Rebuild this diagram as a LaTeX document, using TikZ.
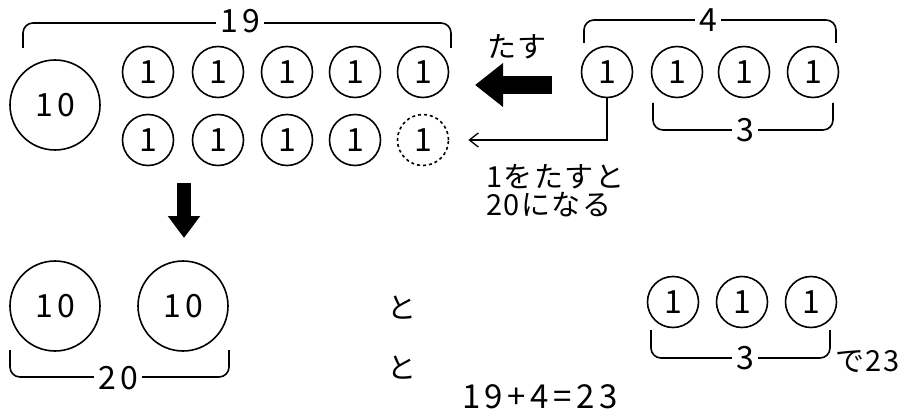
\documentclass[tikz,border=0pt]{standalone}
\usepackage{fontspec}
\setmainfont{Noto Sans CJK JP}
\newfontfamily\spaced[LetterSpace=14]{Noto Sans CJK JP}
\newfontfamily\kana[LetterSpace=5]{Noto Sans CJK JP}
\usetikzlibrary{arrows.meta}
\begin{document}
\begin{tikzpicture}[x=1pt,y=-1pt,
  coin/.style={circle,draw,line width=1.6pt,inner sep=0pt,font=\spaced\fontsize{32}{32}\selectfont},
  big/.style={coin,minimum size=90pt},
  one/.style={coin,minimum size=51pt},
  brk/.style={line width=1.6pt,rounded corners=10pt},
  lbl/.style={fill=white,inner sep=4pt,font=\spaced\fontsize{32}{32}\selectfont},
  txt/.style={inner sep=0pt,font=\kana\fontsize{29}{29}\selectfont},
  eqn/.style={inner sep=0pt,font=\spaced\fontsize{33}{33}\selectfont}]
\useasboundingbox (0,0) rectangle (904,414);
% top left group
\node[big] (t10) at (55,105) {10};
\foreach \x [count=\i] in {148,218,287,355,423} \node[one] (a\i) at (\x,72) {1};
\foreach \x [count=\i] in {148,218,287,355} \node[one] (b\i) at (\x,140) {1};
\node[one,dashed] (bd) at (423,140) {1};
\draw[brk] (23,48) -- (23,23) -- (451,23) -- (451,48);
\node[lbl] (l19) at (240,21) {19};
% right group
\foreach \x [count=\i] in {607,677,744,813} \node[one] (r\i) at (\x,72) {1};
\draw[brk] (584,43) -- (584,20) -- (836,20) -- (836,43);
\node[lbl] (l4) at (708,20) {4};
\draw[brk] (653,103) -- (653,130) -- (833,130) -- (833,103);
\node[lbl] (l3a) at (745,130) {3};
% arrows
\node[txt] (tasu) at (517,47) {たす};
\coordinate (ha) at (552,85);
\coordinate (hb) at (475,85);
\draw[line width=18pt,-{Triangle[length=28pt,width=42pt]}] (ha) -- (hb);
\draw[line width=1.3pt,-{Straight Barb[length=9pt,width=14pt]},shorten >=19pt] (r1.south) |- (bd.east);
\node[txt,anchor=west,align=left] (note) at (486,191) {1をたすと\\[-1pt]20になる};
\coordinate (va) at (184,183);
\coordinate (vb) at (184,238);
\draw[line width=14pt,-{Triangle[length=22pt,width=31pt]}] (va) -- (vb);
% bottom
\node[big] (c1) at (55,306) {10};
\node[big] (c2) at (183,306) {10};
\draw[brk] (10,350) -- (10,377) -- (229,377) -- (229,350);
\node[lbl] (l20) at (118,378) {20};
\node[txt] (to1) at (402,308) {と};
\node[txt] (to2) at (402,368) {と};
\foreach \x [count=\i] in {673,742,811} \node[one] (s\i) at (\x,302) {1};
\draw[brk] (651,330) -- (651,358) -- (830,358) -- (830,330);
\node[lbl] (l3b) at (745,358) {3};
\node[txt,anchor=west] (de) at (835,362) {で23};
\node[eqn] (eq) at (540,397) {19+4=23};
\end{tikzpicture}
\end{document}
